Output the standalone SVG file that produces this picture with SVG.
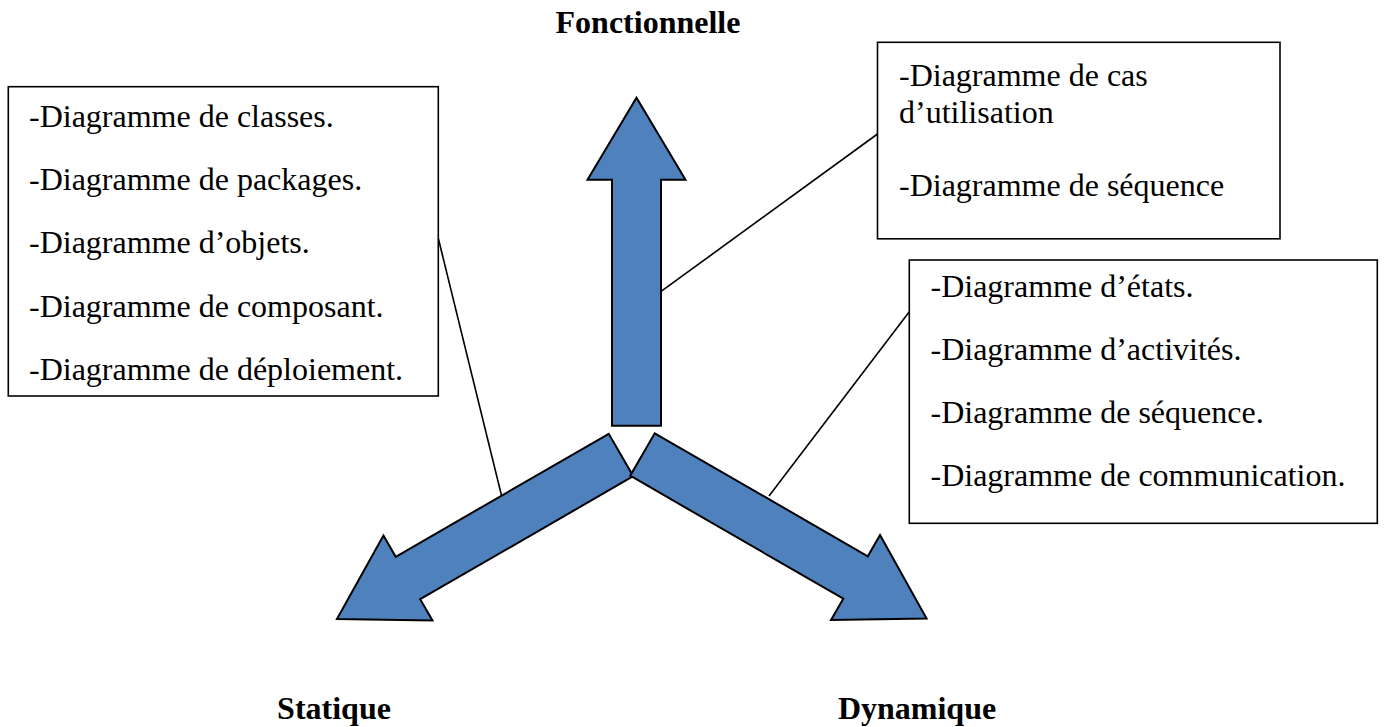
<svg xmlns="http://www.w3.org/2000/svg" width="1385" height="727" viewBox="0 0 1385 727">
  <style>
    .box { fill: #ffffff; stroke: #000000; stroke-width: 1.6; }
    .item { font-family: "Liberation Serif", "Times New Roman", serif; font-size: 32px; fill: #000000; }
    .title { font-family: "Liberation Serif", "Times New Roman", serif; font-size: 32px; font-weight: bold; fill: #000000; text-anchor: middle; }
    .arrow { fill: #4f81bd; stroke: #000000; stroke-width: 2; stroke-linejoin: miter; }
    .link { stroke: #000000; stroke-width: 1.6; fill: none; }
  </style>
  <defs>
    <!-- block arrow pointing up, base centred on the origin -->
    <path id="blockArrow" d="M -24.5,0 L -24.5,-246 L -49,-246 L 0,-328 L 49,-246 L 24.5,-246 L 24.5,0 Z"/>
  </defs>

  <rect width="1385" height="727" fill="#ffffff"/>

  <!-- the three axes -->
  <g id="axis-fonctionnelle">
    <use href="#blockArrow" class="arrow" transform="translate(636.5,425.7)"/>
    <text class="title" x="648" y="33">Fonctionnelle</text>
  </g>
  <g id="axis-statique">
    <use href="#blockArrow" class="arrow" transform="translate(621,455) rotate(-120)"/>
    <text class="title" x="334" y="719">Statique</text>
  </g>
  <g id="axis-dynamique">
    <use href="#blockArrow" class="arrow" transform="translate(642.5,454.5) rotate(120)"/>
    <text class="title" x="917" y="719">Dynamique</text>
  </g>

  <!-- static diagrams -->
  <g id="box-statique">
    <rect class="box" x="8.3" y="86.7" width="430" height="309.3"/>
    <text class="item" x="29" y="127">-Diagramme de classes.</text>
    <text class="item" x="29" y="190">-Diagramme de packages.</text>
    <text class="item" x="29" y="253">-Diagramme d’objets.</text>
    <text class="item" x="29" y="317">-Diagramme de composant.</text>
    <text class="item" x="29" y="380">-Diagramme de déploiement.</text>
  </g>

  <!-- functional diagrams -->
  <g id="box-fonctionnelle">
    <rect class="box" x="877.5" y="42.3" width="402.5" height="196.5"/>
    <text class="item" x="899" y="86">-Diagramme de cas</text>
    <text class="item" x="899" y="123">d’utilisation</text>
    <text class="item" x="899" y="196">-Diagramme de séquence</text>
  </g>

  <!-- dynamic diagrams -->
  <g id="box-dynamique">
    <rect class="box" x="909.3" y="260" width="468" height="263.3"/>
    <text class="item" x="930.5" y="297">-Diagramme d’états.</text>
    <text class="item" x="930.5" y="360">-Diagramme d’activités.</text>
    <text class="item" x="930.5" y="423">-Diagramme de séquence.</text>
    <text class="item" x="930.5" y="486">-Diagramme de communication.</text>
  </g>

  <!-- leader lines from boxes to axes -->
  <g id="connectors">
    <line class="link" x1="438.3" y1="238.3" x2="501.5" y2="495.5"/>
    <line class="link" x1="877.5" y1="134" x2="660.7" y2="291.7"/>
    <line class="link" x1="909.3" y1="311.7" x2="769" y2="496"/>
  </g>
</svg>
